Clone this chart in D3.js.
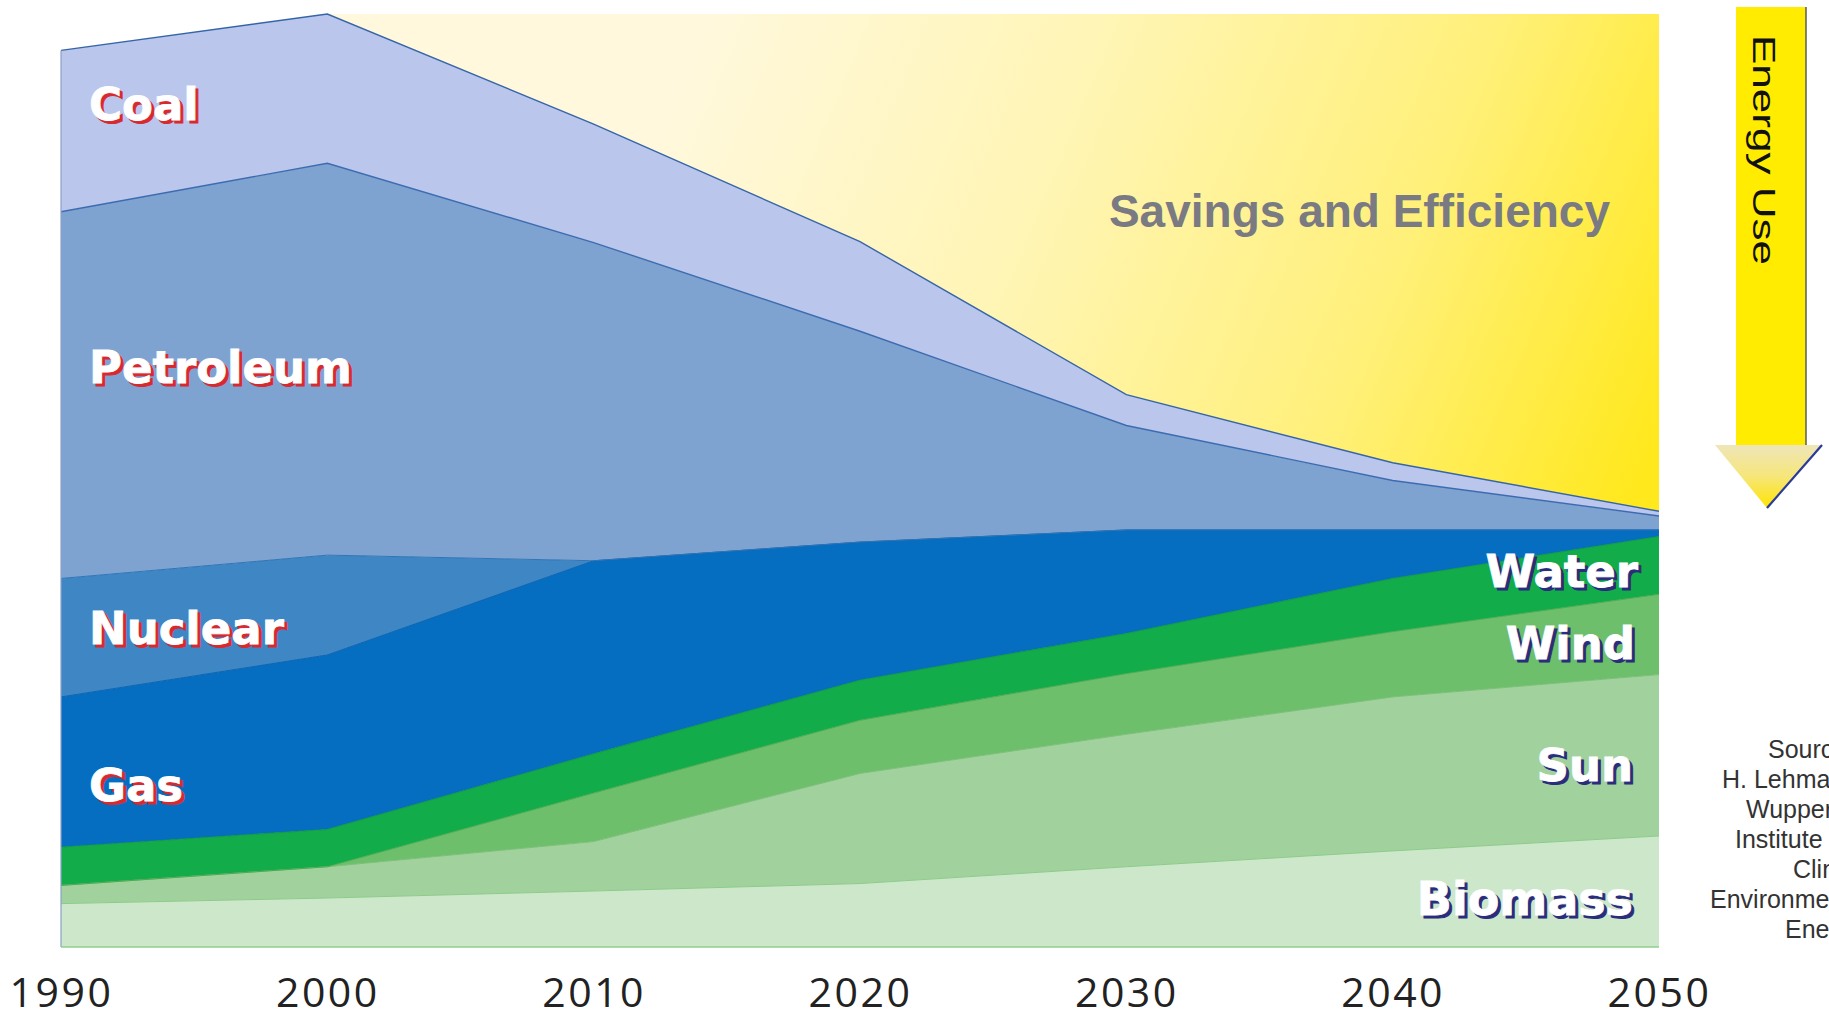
<!DOCTYPE html>
<html>
<head>
<meta charset="utf-8">
<script src="https://cdn.jsdelivr.net/npm/d3@7"></script>
<style>
  html, body { margin: 0; padding: 0; background: #ffffff; }
  svg { display: block; }
</style>
</head>
<body>
<svg id="chart" width="1829" height="1019"></svg>
<script>
// ---- data (energy use, % of 2000 level) ----
const years     = [1990, 2000, 2010, 2020, 2030, 2040, 2050];
const biomass   = [4.65, 5.25, 6.0, 6.8, 8.6, 10.3, 11.9];
const sun       = [1.95, 3.35, 5.3, 11.8, 14.2, 16.5, 17.3];
const wind      = [0, 0, 5.2, 5.7, 6.5, 7.0, 8.6];
const water     = [4.1, 4.0, 4.2, 4.3, 4.3, 5.7, 6.2];
const gas       = [16.1, 18.7, 20.7, 14.8, 11.1, 5.2, 0.7];
const nuclear   = [12.7, 10.7, 0, 0, 0, 0, 0];
const petroleum = [39.3, 42.0, 34.1, 22.6, 11.2, 5.3, 1.5];
const coal      = [17.3, 16.0, 12.7, 9.6, 3.3, 1.9, 0.5];
const savings   = [null, 0, 11.8, 24.4, 40.8, 48.1, 53.3];
const tickLabels = ["1990", "2000", "2010", "2020", "2030", "2040", "2050"];
const keys = ["biomass", "sun", "wind", "water", "gas", "nuclear", "petroleum", "coal", "savings"];
const seriesData = { biomass, sun, wind, water, gas, nuclear, petroleum, coal, savings };
const sourceLines = ["Source:", "H. Lehmann,", "Wuppertal", "Institute for", "Climate,", "Environment,", "Energy"];

// ---- styles ----
const fills = {
  biomass: "#cde7ca", sun: "#a1d29e", wind: "#6dbf6c", water: "#12ac4b",
  gas: "#066ec1", nuclear: "#3f86c4", petroleum: "#7fa3d1", coal: "#bac6ec",
  savings: "url(#savGrad)"
};
const strokes = {
  biomass: "#8ccb88", sun: "#7cbf79", wind: "#4faa52", water: "#0f9a42",
  gas: "#0a62b0", nuclear: "#2f74b6", petroleum: "#3c6cb0", coal: "#3565a8"
};

const table = years.map((yr, i) => {
  const row = { year: yr };
  keys.forEach(k => { row[k] = seriesData[k][i]; });
  return row;
});

const svg = d3.select("#chart");
const defs = svg.append("defs");

const g1 = defs.append("linearGradient").attr("id", "savGrad")
  .attr("gradientUnits", "userSpaceOnUse")
  .attr("x1", 700).attr("y1", 40).attr("x2", 1660).attr("y2", 440);
[[0, "#fff8dc"], [0.35, "#fff5b6"], [0.7, "#fff07a"], [1, "#ffe81c"]]
  .forEach(([o, c]) => g1.append("stop").attr("offset", o).attr("stop-color", c));

const g2 = defs.append("linearGradient").attr("id", "triGrad")
  .attr("x1", 0).attr("y1", 0).attr("x2", 0).attr("y2", 1);
[[0, "#efe6b8"], [0.5, "#f6e67a"], [1, "#ffe400"]]
  .forEach(([o, c]) => g2.append("stop").attr("offset", o).attr("stop-color", c));

const x = d3.scaleLinear().domain([1990, 2050]).range([61, 1659]);
const y = d3.scaleLinear().domain([0, 100]).range([947, 14]);

const stack = d3.stack().keys(keys).value((d, k) => d[k] == null ? NaN : d[k]);
const layers = stack(table);

const area = d3.area()
  .defined(d => !isNaN(d[1]) && !isNaN(d[0]))
  .x(d => x(d.data.year))
  .y0(d => y(d[0]))
  .y1(d => y(d[1]));

const line = d3.line()
  .defined(d => !isNaN(d[1]))
  .x(d => x(d.data.year))
  .y(d => y(d[1]));

const plot = svg.append("g");
plot.selectAll("path.area").data(layers).join("path")
  .attr("class", "area")
  .attr("d", area)
  .attr("fill", d => fills[d.key]);

// top boundary lines
plot.selectAll("path.edge").data(layers.filter(l => l.key !== "savings")).join("path")
  .attr("class", "edge")
  .attr("d", line)
  .attr("fill", "none")
  .attr("stroke", d => strokes[d.key])
  .attr("stroke-width", d => (d.key === "coal" || d.key === "petroleum") ? 1.4 : 1);

// left & bottom edges
const total1990 = layers[layers.length - 2][0][1];
plot.append("line").attr("x1", x(1990)).attr("x2", x(1990)).attr("y1", y(0)).attr("y2", y(total1990))
  .attr("stroke", "#8aa0c8").attr("stroke-width", 1.2);
plot.append("line").attr("x1", x(1990)).attr("x2", x(2050)).attr("y1", y(0)).attr("y2", y(0))
  .attr("stroke", "#8fcf8c").attr("stroke-width", 1.5);

// ---- axis ----
const axis = d3.axisBottom(x).tickValues(years).tickFormat((d, i) => tickLabels[i]).tickSize(0);
const ax = svg.append("g").attr("transform", "translate(0,1007)").call(axis);
ax.select(".domain").remove();
ax.selectAll("text")
  .attr("y", 0).attr("dy", 0)
  .attr("fill", "#222")
  .style("font-family", "'Open Sans', sans-serif")
  .style("font-size", "41px")
  .style("letter-spacing", "2.5px");

// ---- labels ----
function shadowLabel(txt, lx, ly, anchor, shadow, size) {
  const g = svg.append("g").style("font-family", "'DejaVu Sans', sans-serif")
    .style("font-weight", "bold").style("font-size", size + "px");
  g.append("text").attr("x", lx + 3).attr("y", ly + 3).attr("text-anchor", anchor)
    .attr("fill", shadow).attr("stroke", shadow).attr("stroke-width", 1).text(txt);
  g.append("text").attr("x", lx).attr("y", ly).attr("text-anchor", anchor)
    .attr("fill", "#ffffff").attr("stroke", "#ffffff").attr("stroke-width", 0.8).text(txt);
}
shadowLabel("Coal", 89, 120, "start", "#d62a30", 45);
shadowLabel("Petroleum", 89, 383, "start", "#d62a30", 45);
shadowLabel("Nuclear", 89, 644, "start", "#d62a30", 45);
shadowLabel("Gas", 89, 801, "start", "#d62a30", 45);
shadowLabel("Water", 1638, 587, "end", "#2a2d7c", 45);
shadowLabel("Wind", 1635, 659, "end", "#2a2d7c", 45);
shadowLabel("Sun", 1633, 781, "end", "#2a2d7c", 45);
shadowLabel("Biomass", 1633, 915, "end", "#2a2d7c", 46);

svg.append("text").attr("x", 1610).attr("y", 227).attr("text-anchor", "end")
  .style("font-family", "'Liberation Sans', Arial, sans-serif")
  .style("font-weight", "bold").style("font-size", "46px")
  .attr("fill", "#7a7a82").text("Savings and Efficiency");

// ---- Energy Use arrow ----
const arrow = svg.append("g");
arrow.append("rect").attr("x", 1736).attr("y", 7).attr("width", 70).attr("height", 438)
  .attr("fill", "#ffec00");
arrow.append("line").attr("x1", 1806).attr("x2", 1806).attr("y1", 7).attr("y2", 445)
  .attr("stroke", "#5a5a5a").attr("stroke-width", 1.5);
arrow.append("path").attr("d", "M1715,445 L1822,445 L1767,508 Z").attr("fill", "url(#triGrad)");
arrow.append("path").attr("d", "M1822,445 L1767,508").attr("stroke", "#2a3a9c").attr("stroke-width", 2.2).attr("fill", "none");
arrow.append("text").attr("transform", "translate(1753,35) rotate(90)")
  .style("font-family", "'Liberation Sans', Arial, sans-serif")
  .style("font-size", "31px").attr("fill", "#111")
  .attr("textLength", 230).attr("lengthAdjust", "spacingAndGlyphs")
  .text("Energy Use");

// ---- source note ----
const srcStarts = [1768, 1722, 1746, 1735, 1793, 1710, 1785];
svg.append("g").selectAll("text").data(sourceLines).join("text")
  .attr("x", (d, i) => srcStarts[i])
  .attr("y", (d, i) => 758 + i * 30)
  .style("font-family", "'Liberation Sans', Arial, sans-serif")
  .style("font-size", "25px").attr("fill", "#333")
  .text(d => d);
</script>
</body>
</html>
